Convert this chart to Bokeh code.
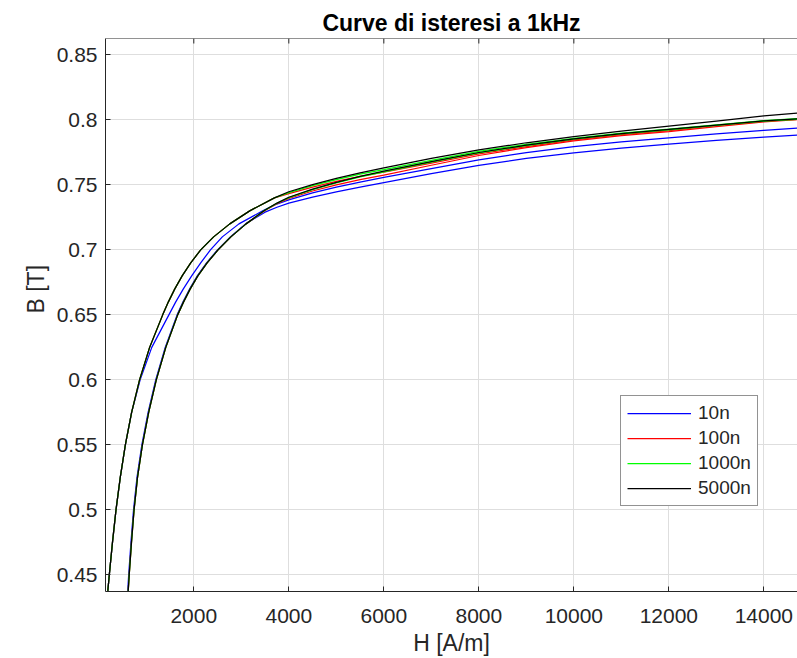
from bokeh.plotting import figure
from bokeh.models import (Range1d, FixedTicker, Legend, LegendItem, Span, Title,
                          CustomJSTickFormatter)
from bokeh.core.properties import value
from bokeh.embed import file_html
from bokeh.resources import INLINE

# ---------------- data ----------------
title_text = "Curve di isteresi a 1kHz"
x_label = "H [A/m]"
y_label = "B [T]"
series_labels = ["10n", "100n", "1000n", "5000n"]
series_colors = ["#0000ff", "#ff0000", "#00ff00", "#000000"]

x_ticks = [2000, 4000, 6000, 8000, 10000, 12000, 14000]
y_ticks = [0.45, 0.5, 0.55, 0.6, 0.65, 0.7, 0.75, 0.8, 0.85]

# descending (upper) branch, shared by 100n / 1000n / 5000n on the left
upper_left_B = [0.4377, 0.45, 0.475, 0.5, 0.525, 0.55, 0.575, 0.6, 0.625, 0.65,
                0.66, 0.67, 0.68, 0.69, 0.70, 0.71, 0.72, 0.73, 0.74]
upper_left_H = [190, 221, 288, 362, 452, 559, 691, 858, 1070, 1345,
                1465, 1600, 1755, 1935, 2145, 2417, 2757, 3177, 3697]

# ascending (lower) branch, shared on the left
lower_left_B = [0.4377, 0.45, 0.475, 0.5, 0.525, 0.55, 0.575, 0.6, 0.625, 0.65,
                0.66, 0.67, 0.68, 0.69, 0.70, 0.71, 0.72]
lower_left_H = [619, 640, 688, 742, 815, 918, 1050, 1210, 1410, 1660,
                1785, 1925, 2085, 2280, 2510, 2780, 3100]

# 10n branches on the left
blue_up_left_B = [0.4377, 0.45, 0.475, 0.5, 0.525, 0.55, 0.575, 0.6, 0.625, 0.65,
                  0.66, 0.67, 0.68, 0.69, 0.70, 0.71, 0.72, 0.73, 0.7345]
blue_up_left_H = [190, 221, 288, 362, 452, 559, 691, 870, 1115, 1475,
                  1620, 1780, 1955, 2145, 2350, 2600, 2950, 3450, 3700]
blue_lo_left_B = [0.4377, 0.45, 0.475, 0.5, 0.525, 0.55, 0.575, 0.6, 0.625, 0.65,
                  0.66, 0.67, 0.68, 0.69, 0.70, 0.71, 0.72, 0.729, 0.7328]
blue_lo_left_H = [609, 629, 677, 731, 804, 906, 1038, 1198, 1398, 1648,
                  1773, 1913, 2073, 2268, 2498, 2768, 3088, 3500, 3750]

# middle points of the other lower branches
mid_H = [3500, 3750]
red_lo_mid_B = [0.7303, 0.7355]
green_lo_mid_B = [0.7306, 0.7359]
black_lo_mid_B = [0.7307, 0.7360]

# right part of every branch
right_H = [4000, 4500, 5000, 5500, 6000, 7000, 8000, 9000, 10000, 11000, 12000, 13000, 14000, 14708]
blue_up_right_B = [0.7385, 0.7438, 0.7483, 0.7522, 0.7557, 0.7625, 0.7692, 0.7748, 0.7794, 0.7830, 0.7862, 0.7892, 0.7920, 0.7937]
blue_lo_right_B = [0.7360, 0.7405, 0.7446, 0.7483, 0.7518, 0.7586, 0.7650, 0.7703, 0.7747, 0.7783, 0.7814, 0.7842, 0.7867, 0.7883]
red_up_right_B = [0.7432, 0.7482, 0.7527, 0.7565, 0.7598, 0.7668, 0.7738, 0.7795, 0.7846, 0.7887, 0.7917, 0.7955, 0.7990, 0.8005]
red_lo_right_B = [0.7395, 0.7453, 0.7500, 0.7540, 0.7575, 0.7651, 0.7726, 0.7786, 0.7838, 0.7879, 0.7910, 0.7948, 0.7985, 0.8002]
green_up_right_B = [0.7440, 0.7494, 0.7541, 0.7582, 0.7617, 0.7689, 0.7758, 0.7812, 0.7858, 0.7898, 0.7928, 0.7962, 0.7995, 0.8010]
green_lo_right_B = [0.7402, 0.7464, 0.7516, 0.7561, 0.7600, 0.7675, 0.7746, 0.7802, 0.7851, 0.7892, 0.7924, 0.7957, 0.7990, 0.8005]
black_up_right_B = [0.7447, 0.7502, 0.7550, 0.7592, 0.7631, 0.7703, 0.7769, 0.7824, 0.7871, 0.7913, 0.7952, 0.7991, 0.8030, 0.8053]
black_lo_right_B = [0.7405, 0.7468, 0.7520, 0.7565, 0.7605, 0.7679, 0.7749, 0.7805, 0.7853, 0.7895, 0.7927, 0.7960, 0.7993, 0.8007]

# ---------------- branches ----------------
branches = {
    "10n": [(blue_up_left_H + right_H, blue_up_left_B + blue_up_right_B),
            (blue_lo_left_H + right_H, blue_lo_left_B + blue_lo_right_B)],
    "100n": [(upper_left_H + right_H, upper_left_B + red_up_right_B),
             (lower_left_H + mid_H + right_H, lower_left_B + red_lo_mid_B + red_lo_right_B)],
    "1000n": [(upper_left_H + right_H, upper_left_B + green_up_right_B),
              (lower_left_H + mid_H + right_H, lower_left_B + green_lo_mid_B + green_lo_right_B)],
    "5000n": [(upper_left_H + right_H, upper_left_B + black_up_right_B),
              (lower_left_H + mid_H + right_H, lower_left_B + black_lo_mid_B + black_lo_right_B)],
}

FONT = "Liberation Sans"
AX = "#262626"
X0, X1 = 141, 14708
Y0, Y1 = 0.4372, 0.8626

p = figure(width=797, height=658, output_backend="svg", toolbar_location=None,
           x_range=Range1d(X0, X1), y_range=Range1d(Y0, Y1),
           min_border_left=105, min_border_right=0, min_border_top=38, min_border_bottom=67,
           title=title_text)
p.outline_line_color = None
p.background_fill_color = "white"
p.border_fill_color = "white"

p.title.align = "center"
p.title.text_font = FONT
p.title.text_font_size = "23px"
p.title.text_font_style = "bold"
p.title.text_color = "#000000"
p.title.standoff = 6

for ax in (p.xaxis[0], p.yaxis[0]):
    ax.axis_line_color = AX
    ax.major_tick_line_color = AX
    ax.major_tick_in = 5
    ax.major_tick_out = 0
    ax.minor_tick_line_color = None
    ax.major_label_text_font = FONT
    ax.major_label_text_font_size = "21px"
    ax.major_label_text_color = AX
    ax.axis_label_text_font = FONT
    ax.axis_label_text_font_size = "23px"
    ax.axis_label_text_font_style = "normal"
    ax.axis_label_text_color = AX

p.xaxis[0].ticker = FixedTicker(ticks=x_ticks)
p.yaxis[0].ticker = FixedTicker(ticks=y_ticks)
p.xaxis[0].formatter = CustomJSTickFormatter(code="return tick.toFixed(0);")
p.yaxis[0].formatter = CustomJSTickFormatter(code="return Number(tick.toFixed(2)).toString();")
p.xaxis[0].axis_label = x_label
p.xaxis[0].major_label_standoff = 17
p.xaxis[0].axis_label_standoff = 4
p.yaxis[0].major_label_standoff = 8

# y title as a side title, placed a little above the frame centre as in the reference
ytitle = Title(text=y_label, align="left", offset=278, vertical_align="bottom",
               standoff=10, text_font=FONT, text_font_size="23px",
               text_font_style="normal", text_color=AX)
p.add_layout(ytitle, "left")

# top box edge with inward ticks
p.add_layout(Span(location=Y1, dimension="width", line_color=AX, line_width=1))
tick_len = 5 * (Y1 - Y0) / 553
p.segment(x0=x_ticks, y0=[Y1] * len(x_ticks), x1=x_ticks, y1=[Y1 - tick_len] * len(x_ticks),
          line_color=AX, line_width=1)

p.xgrid.ticker = FixedTicker(ticks=x_ticks)
p.ygrid.ticker = FixedTicker(ticks=y_ticks)
for g in (p.xgrid[0], p.ygrid[0]):
    g.grid_line_color = "#dedede"
    g.grid_line_width = 1

items = []
for lbl, col in zip(series_labels, series_colors):
    rs = []
    for hx, by in branches[lbl]:
        rs.append(p.line(hx, by, line_color=col, line_width=1.25))
    items.append(LegendItem(label=value(lbl), renderers=[rs[0]]))

legend = Legend(items=items, location=(515, 85))
legend.padding = 6
legend.spacing = 3
legend.margin = 0
legend.glyph_width = 64
legend.glyph_height = 20
legend.label_height = 20
legend.label_standoff = 7
legend.label_text_font = FONT
legend.label_text_font_size = "19px"
legend.label_text_color = AX
legend.border_line_color = AX
legend.border_line_width = 1
legend.background_fill_color = "white"
legend.background_fill_alpha = 1
p.add_layout(legend)

open("out.html", "w").write(file_html(p, INLINE))
